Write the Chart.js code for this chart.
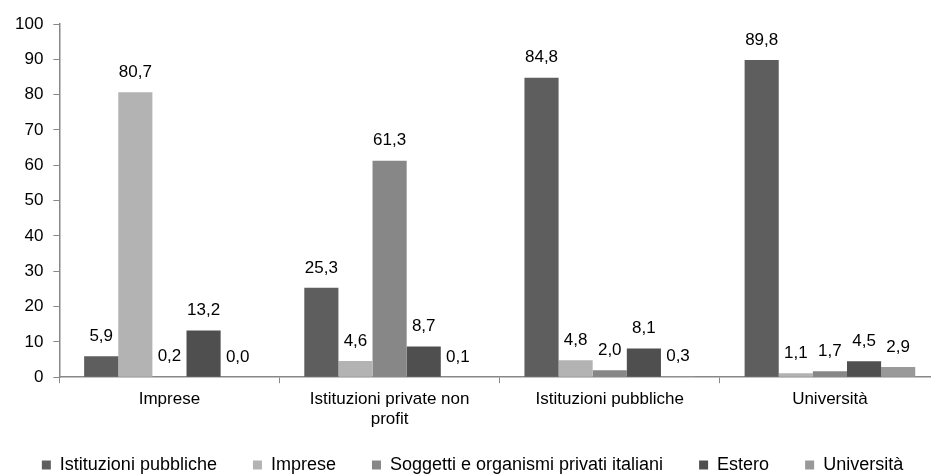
<!DOCTYPE html>
<html>
<head>
<meta charset="utf-8">
<script src="https://cdn.jsdelivr.net/npm/chart.js@4/dist/chart.umd.min.js"></script>
<style>
  html, body { margin: 0; background: #fff; overflow: hidden; }
  #wrap { width: 940px; height: 475px; }
</style>
</head>
<body>
<div id="wrap"><canvas id="grafico"></canvas></div>
<script>
// Categorie e serie (valori percentuali)
const categorie = ['Imprese', ['Istituzioni private non', 'profit'], 'Istituzioni pubbliche', 'Università'];
const istituzioniPubbliche = [5.9, 25.3, 84.8, 89.8];
const imprese = [80.7, 4.6, 4.8, 1.1];
const soggettiPrivati = [0.2, 61.3, 2.0, 1.7];
const estero = [13.2, 8.7, 8.1, 4.5];
const universita = [0.0, 0.1, 0.3, 2.9];

const FONT = '"Liberation Sans", Arial, sans-serif';

// Etichette sopra le barre, con la virgola decimale
const etichettePlugin = {
    id: 'etichette',
    afterDatasetsDraw(chart) {
        const ctx = chart.ctx;
        ctx.save();
        ctx.font = '17px ' + FONT;
        ctx.fillStyle = '#000';
        ctx.textAlign = 'center';
        ctx.textBaseline = 'middle';
        chart.data.datasets.forEach((ds, i) => {
            chart.getDatasetMeta(i).data.forEach((bar, j) => {
                const testo = ds.data[j].toFixed(1).replace('.', ',');
                ctx.fillText(testo, bar.x, bar.y - 20);
            });
        });
        ctx.restore();
    }
};

// La legenda ha molto spazio orizzontale: la avvicino all'asse
const legendaSu = {
    id: 'legendaSu',
    afterLayout(chart) {
        if (chart.legend) {
            chart.legend.top -= 16;
            chart.legend.bottom -= 16;
        }
    }
};

const ctx = document.getElementById('grafico').getContext('2d');
new Chart(ctx, {
    type: 'bar',
    data: {
        labels: categorie,
        datasets: [
            { label: 'Istituzioni pubbliche', data: istituzioniPubbliche, backgroundColor: '#5e5e5e' },
            { label: 'Imprese', data: imprese, backgroundColor: '#b3b3b3' },
            { label: 'Soggetti e organismi privati italiani', data: soggettiPrivati, backgroundColor: '#878787' },
            { label: 'Estero', data: estero, backgroundColor: '#4f4f4f' },
            { label: 'Università', data: universita, backgroundColor: '#999999' }
        ]
    },
    options: {
        responsive: true,
        maintainAspectRatio: false,
        animation: false,
        layout: { padding: { top: 24, right: 0, left: 5, bottom: -25 } },
        datasets: { bar: { categoryPercentage: 0.775, barPercentage: 1.0 } },
        scales: {
            x: {
                grid: { display: true, drawOnChartArea: false, offset: true, tickLength: 6, color: '#888' },
                border: { color: '#888', width: 1.5 },
                ticks: { color: '#000', font: { size: 17, family: FONT }, maxRotation: 0, padding: 6 }
            },
            y: {
                min: 0, max: 100,
                grid: { display: true, drawOnChartArea: false, tickLength: 6, color: '#888' },
                border: { color: '#888', width: 1.5 },
                ticks: { stepSize: 10, color: '#000', font: { size: 17, family: FONT }, padding: 10 }
            }
        },
        plugins: {
            legend: {
                position: 'bottom',
                labels: {
                    boxWidth: 9, boxHeight: 9, padding: 36, color: '#000',
                    font: { size: 18, family: FONT }
                }
            },
            tooltip: { enabled: false }
        }
    },
    plugins: [etichettePlugin, legendaSu]
});
</script>
</body>
</html>
